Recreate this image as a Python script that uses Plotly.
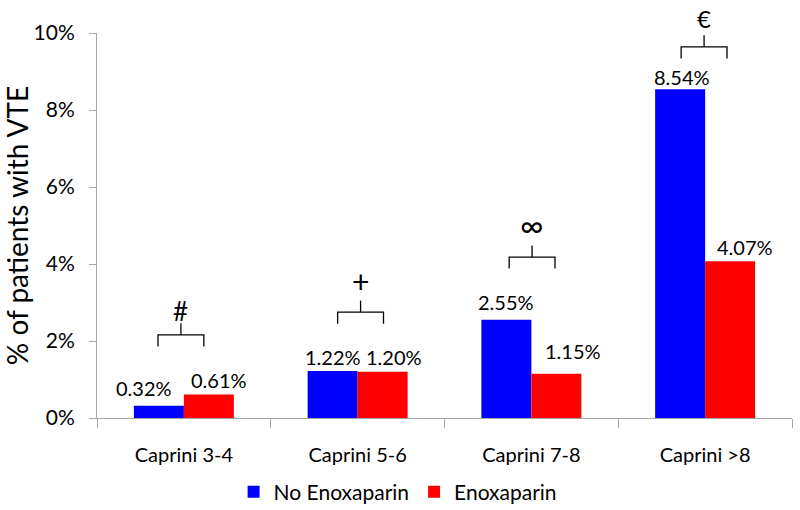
import plotly.graph_objects as go

# ---- data ----
categories = ["Caprini 3-4", "Caprini 5-6", "Caprini 7-8", "Caprini >8"]
no_enox = [0.32, 1.22, 2.55, 8.54]
enox = [0.61, 1.20, 1.15, 4.07]
series_names = ["No Enoxaparin", "Enoxaparin"]
symbols = ["#", "+", "\u221e", "\u20ac"]
bracket_levels = [2.16, 2.75, 4.18, 9.64]   # height (in %) of each significance bracket
y_ticks = [0, 2, 4, 6, 8, 10]
y_tick_labels = [f"{v}%" for v in y_ticks]

# ---- style / layout helpers ----
FONT = "Lato"
BLUE = "#0000ff"
RED = "#ff0000"
AXIS = "#a6a6a6"
BAR_HALF = 0.144          # half a bar's width in category units (bar centre offset)
label_shift_blue = [(-15, 18), (0, 14), (0, 18), (2, 12)]
label_shift_red = [(10, 15), (11, 15), (17, 23), (15, 14)]
bracket_dx = [-0.017, 0.017, 0.004, -0.006]
symbol_size = [26, 30, 32, 24]
symbol_shift = [-6, 0, 0, 0]
BR_HALF = 0.132
LEG = 0.30
STEM = 0.30

fig = go.Figure()
fig.add_trace(go.Bar(x=categories, y=no_enox, name=series_names[0],
                     marker=dict(color=BLUE, line=dict(width=0))))
fig.add_trace(go.Bar(x=categories, y=enox, name=series_names[1],
                     marker=dict(color=RED, line=dict(width=0))))

annotations = []
shapes = []
for i, cat in enumerate(categories):
    for val, sign, (dx, dy) in ((no_enox[i], -1, label_shift_blue[i]),
                                (enox[i], 1, label_shift_red[i])):
        annotations.append(dict(x=i + sign * BAR_HALF, y=val, xref="x", yref="y",
                                text=f"{val:.2f}%", showarrow=False,
                                xanchor="center", yanchor="middle",
                                xshift=dx, yshift=dy,
                                font=dict(family=FONT, size=20, color="black")))
    c = i + bracket_dx[i]
    lvl = bracket_levels[i]
    line = dict(color="black", width=1.3)
    shapes.append(dict(type="path", xref="x", yref="y",
                       path=f"M {c-BR_HALF},{lvl-LEG} L {c-BR_HALF},{lvl} L {c+BR_HALF},{lvl} L {c+BR_HALF},{lvl-LEG}",
                       line=line))
    shapes.append(dict(type="line", xref="x", yref="y", x0=c, x1=c,
                       y0=lvl, y1=lvl + STEM, line=line))
    annotations.append(dict(x=c, y=lvl + STEM, xref="x", yref="y", text=symbols[i],
                            showarrow=False, xanchor="center", yanchor="bottom",
                            yshift=symbol_shift[i],
                            font=dict(family=FONT, size=symbol_size[i], color="black")))

fig.update_layout(
    width=800, height=510,
    margin=dict(l=97, r=8, t=33, b=92, autoexpand=False),
    paper_bgcolor="white", plot_bgcolor="white",
    barmode="group", bargap=0.4245, bargroupgap=0,
    font=dict(family=FONT, size=20, color="black"),
    showlegend=True,
    legend=dict(orientation="h", xref="container", yref="container",
                x=0.497, y=0.035, xanchor="center", yanchor="middle",
                font=dict(family=FONT, size=21, color="black"),
                traceorder="normal"),
    annotations=annotations,
    shapes=shapes,
)
fig.update_xaxes(showline=True, linecolor=AXIS, linewidth=1,
                 ticks="outside", ticklen=9, tickcolor=AXIS, tickson="boundaries",
                 showgrid=False, zeroline=False, automargin=False,
                 tickfont=dict(family=FONT, size=20, color="black"),
                 ticklabelstandoff=19)
fig.update_yaxes(range=[0, 10], tickmode="array", tickvals=y_ticks, ticktext=y_tick_labels,
                 showline=True, linecolor=AXIS, linewidth=1,
                 ticks="outside", ticklen=7, tickcolor=AXIS,
                 showgrid=False, zeroline=False, automargin=False,
                 tickfont=dict(family=FONT, size=21, color="black"),
                 ticklabelstandoff=10,
                 title=dict(text="% of patients with VTE", standoff=4,
                            font=dict(family=FONT, size=28, color="black")))

fig.write_html("out.html", config={"displayModeBar": False},
               post_script="document.body.style.margin='0';document.body.style.padding='0';")
